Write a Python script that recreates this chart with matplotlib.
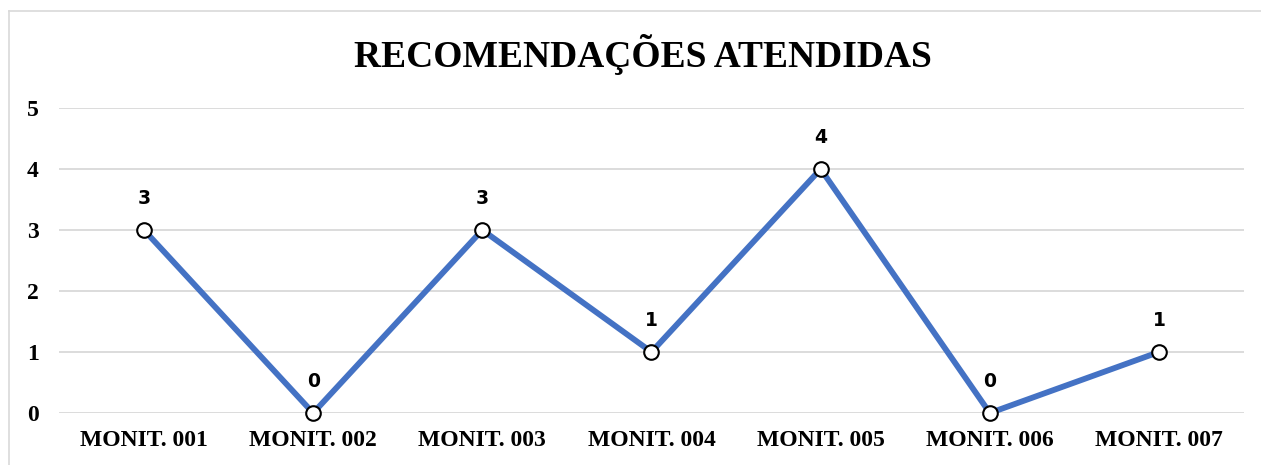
import matplotlib.pyplot as plt
from matplotlib.lines import Line2D

categories = ["MONIT. 001", "MONIT. 002", "MONIT. 003", "MONIT. 004",
              "MONIT. 005", "MONIT. 006", "MONIT. 007"]
values = [3, 0, 3, 1, 4, 0, 1]
yticks = [0, 1, 2, 3, 4, 5]

serif = ["Liberation Serif", "DejaVu Serif"]

fig = plt.figure(figsize=(12.61, 4.65), dpi=100)
ax = fig.add_axes([0.0471, 0.1118, 0.9391, 0.6559])

x = range(len(categories))
ax.plot(x, values, color="#4472C4", linewidth=4.2, marker="o",
        markersize=10.5, markerfacecolor="white", markeredgecolor="black",
        markeredgewidth=1.5, solid_capstyle="round", zorder=3, clip_on=False)

for xi, v in zip(x, values):
    ax.annotate(str(v), (xi, v), xytext=(0, 23), textcoords="offset points",
                ha="center", va="center", fontsize=13.5, fontweight="bold",
                family="DejaVu Sans")

ax.set_xlim(-0.5, len(categories) - 0.5)
ax.set_ylim(0, 5)
ax.set_yticks(yticks)
ax.set_xticks(list(x))
ax.set_xticklabels(categories, family=serif, fontsize=17, fontweight="bold")
ax.set_yticklabels([str(t) for t in yticks], family=serif, fontsize=17,
                   fontweight="bold")
ax.tick_params(axis="both", length=0)
ax.tick_params(axis="y", pad=15)
ax.tick_params(axis="x", pad=12)
ax.grid(axis="y", color="#D9D9D9", linewidth=1.3)
ax.set_axisbelow(True)
for s in ax.spines.values():
    s.set_visible(False)

fig.text(0.51, 0.882, "RECOMENDAÇÕES ATENDIDAS", ha="center", va="center",
         family=serif, fontsize=27, fontweight="bold")

# chart border (top and left only visible)
fig.add_artist(Line2D([8.5 / 1261, 1], [1 - 11.5 / 465, 1 - 11.5 / 465],
                      transform=fig.transFigure, color="#D9D9D9", linewidth=1.2))
fig.add_artist(Line2D([8.5 / 1261, 8.5 / 1261], [0, 1 - 11.5 / 465],
                      transform=fig.transFigure, color="#D9D9D9", linewidth=1.2))

fig.savefig("out.png", dpi=100)
